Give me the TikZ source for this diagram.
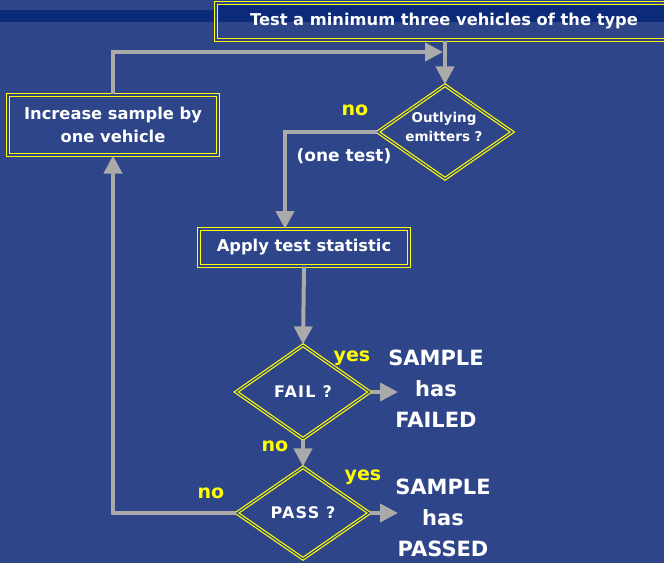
\documentclass[tikz,border=0pt]{standalone}
\usepackage{fontspec}
\setmainfont{DejaVu Sans}
\usetikzlibrary{shapes.geometric,arrows.meta}
\definecolor{bgblue}{RGB}{46,69,137}
\definecolor{bandblue}{RGB}{11,42,122}
\definecolor{linegray}{RGB}{170,170,170}
\definecolor{ylw}{RGB}{255,255,0}
\newcommand{\fsz}[2]{\fontsize{#1}{#2}\selectfont}
\begin{document}
\begin{tikzpicture}[x=1pt,y=-1pt,
  every node/.style={text=white, font=\bfseries},
  procbox/.style={rectangle, draw=ylw, double=bgblue, double distance=1.2pt,
    line width=1.2pt, inner sep=0pt, align=center, font=\bfseries\fsz{16.3}{23}},
  decision/.style={diamond, draw=ylw, double=bgblue, double distance=1.2pt,
    line width=1.2pt, inner sep=0pt, align=center},
  flow/.style={draw=linegray, line width=4pt, -{Triangle[width=18pt,length=18pt]}},
  answer/.style={text=ylw, font=\bfseries\fsz{19}{19}},
  outcome/.style={align=center, font=\bfseries\fsz{21}{31}}
]
\useasboundingbox (0,0) rectangle (664,563);
\fill[bgblue] (0,0) rectangle (664,563);
\fill[bandblue] (0,10) rectangle (664,22);
\fill[bandblue] (216,4) rectangle (672,22);

% process boxes
\node[procbox, minimum width=456pt, minimum height=37pt] (start) at (444,21.5)
  {Test a minimum three vehicles of the type};
\node[procbox, minimum width=210pt, minimum height=60pt] (inc) at (113,125)
  {Increase sample by\\one vehicle};
\node[procbox, minimum width=210pt, minimum height=37pt] (apply) at (304,247.5)
  {Apply test statistic};

% decisions
\node[decision, minimum width=135pt, minimum height=94pt] (out) at (445,132) {};
\node[align=center, font=\bfseries\fsz{13.5}{19}] (outtext) at (444,127)
  {Outlying\\emitters ?};
\node[decision, minimum width=134pt, minimum height=94pt,
  font=\bfseries\fsz{16}{16}\addfontfeature{LetterSpace=8}] (fail) at (303,392) {FAIL ?};
\node[decision, minimum width=133pt, minimum height=92pt,
  font=\bfseries\fsz{16}{16}\addfontfeature{LetterSpace=8}] (pass) at (303,513) {PASS ?};

% outcomes
\node[outcome] (failed) at (436,389) {SAMPLE\\has\\FAILED};
\node[outcome] (passed) at (443,518) {SAMPLE\\has\\PASSED};

% branch labels
\node[answer] (noout) at (355,110) {no};
\node[text=white, font=\bfseries\fsz{17}{17}] (onetest) at (344,156) {(one test)};
\node[answer] (yesfail) at (352,358) {yes};
\node[answer] (nofail) at (275,446) {no};
\node[answer] (yespass) at (363,477) {yes};
\node[answer] (nopass) at (211,493) {no};

% connector end points
\coordinate (join) at (443,52);
\coordinate (applyin) at (285,229);
\coordinate (failtip) at (398,392);
\coordinate (passtip) at (398,513);

% connectors
\draw[flow] (start.south -| out.north) -- (out.north);
\draw[flow] (inc.north) |- (join);
\draw[flow] (out.west) -| (applyin);
\draw[flow] (apply.south) -- (fail.north);
\draw[flow] (fail.east) -- (failtip);
\draw[flow] (fail.south) -- (pass.north);
\draw[flow] (pass.east) -- (passtip);
\draw[flow] (pass.west) -| (inc.south);
\end{tikzpicture}
\end{document}
